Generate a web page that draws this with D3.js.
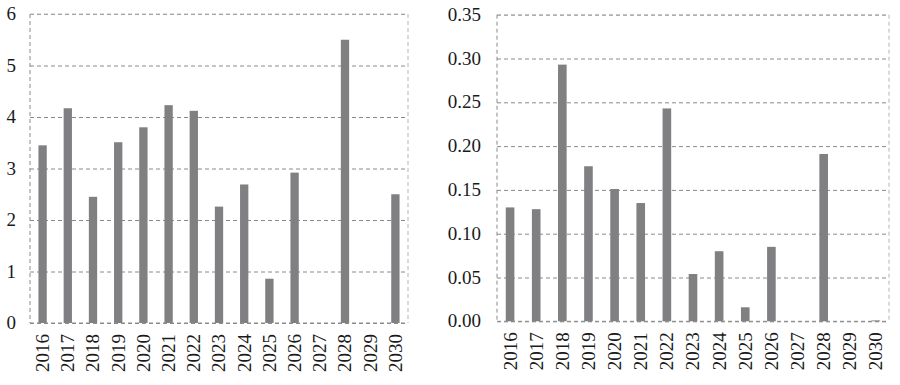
<!DOCTYPE html>
<html>
<head>
<meta charset="utf-8">
<script src="https://cdn.jsdelivr.net/npm/d3@7"></script>
<style>
  body { margin: 0; background: #fff; }
  svg { display: block; }
  .grid line { stroke: #8a8a8a; stroke-dasharray: 4,3; }
  .grid path { display: none; }
</style>
</head>
<body>
<svg width="900" height="385"></svg>
<script>
var years = ["2016", "2017", "2018", "2019", "2020", "2021", "2022", "2023",
             "2024", "2025", "2026", "2027", "2028", "2029", "2030"];
var leftValues = [3.45, 4.17, 2.45, 3.51, 3.80, 4.23, 4.12, 2.26, 2.69, 0.86, 2.92, 0, 5.50, 0, 2.50];
var rightValues = [0.130, 0.128, 0.293, 0.177, 0.151, 0.135, 0.243, 0.054, 0.080, 0.016, 0.085, 0, 0.191, 0, 0.001];
var leftTicks = [0, 1, 2, 3, 4, 5, 6];
var rightTicks = [0, 0.05, 0.10, 0.15, 0.20, 0.25, 0.30, 0.35];

var svg = d3.select("svg");
var serif = "Liberation Serif";

// draws one bar panel inside the box [x0,x1] x [y0,y1]
function panel(box, values, ticks, fmt, labelGap) {
  var width = box.x1 - box.x0,
      height = box.y1 - box.y0;
  var g = svg.append("g").attr("transform", "translate(" + box.x0 + "," + box.y0 + ")");

  var x = d3.scaleBand().domain(years).range([0, width]).paddingInner(0.67).paddingOuter(0.335);
  var y = d3.scaleLinear().domain([0, ticks[ticks.length - 1]]).range([height, 0]);

  // horizontal gridlines
  g.append("g")
      .attr("class", "grid")
      .call(d3.axisLeft(y).tickValues(ticks).tickSize(-width).tickFormat(""));

  // frame: left and bottom dark dashed, top and right lighter
  g.append("line").attr("x1", 0).attr("x2", 0).attr("y1", 0).attr("y2", height)
      .attr("stroke", "#8a8a8a").attr("stroke-dasharray", "4,3");
  g.append("line").attr("x1", width).attr("x2", width).attr("y1", 0).attr("y2", height)
      .attr("stroke", "#b5b5b5").attr("stroke-dasharray", "4,3");
  g.append("line").attr("x1", 0).attr("x2", width).attr("y1", 0).attr("y2", 0)
      .attr("stroke", "#bdbdbd").attr("stroke-dasharray", "4,3");

  // bars
  g.selectAll(".bar")
    .data(values)
    .enter().append("rect")
      .attr("class", "bar")
      .attr("x", function(d, i) { return x(years[i]); })
      .attr("width", x.bandwidth())
      .attr("y", function(d) { return y(d); })
      .attr("height", function(d) { return height - y(d); })
      .attr("fill", "#808083");

  // bottom axis line over the bars
  g.append("line").attr("x1", 0).attr("x2", width).attr("y1", height).attr("y2", height)
      .attr("stroke", "#8a8a8a").attr("stroke-dasharray", "4,3");

  // y tick labels
  g.selectAll(".ylab")
    .data(ticks)
    .enter().append("text")
      .attr("x", -labelGap)
      .attr("y", function(d) { return y(d); })
      .attr("dy", "0.32em")
      .attr("text-anchor", "end")
      .attr("font-family", serif)
      .attr("font-size", "19px")
      .attr("fill", "#1a1a1a")
      .text(fmt);

  // rotated year labels
  g.selectAll(".xlab")
    .data(years)
    .enter().append("text")
      .attr("transform", function(d) {
        return "translate(" + (x(d) + x.bandwidth() / 2) + "," + (height + 11) + ") rotate(-90)";
      })
      .attr("dy", "0.34em")
      .attr("text-anchor", "end")
      .attr("font-family", serif)
      .attr("font-size", "19px")
      .attr("fill", "#1a1a1a")
      .text(function(d) { return d; });
}

panel({x0: 30, x1: 408, y0: 14, y1: 323}, leftValues, leftTicks, d3.format("d"), 14);
panel({x0: 497, x1: 889, y0: 14.7, y1: 321.3}, rightValues, rightTicks, d3.format(".2f"), 16);
</script>
</body>
</html>
